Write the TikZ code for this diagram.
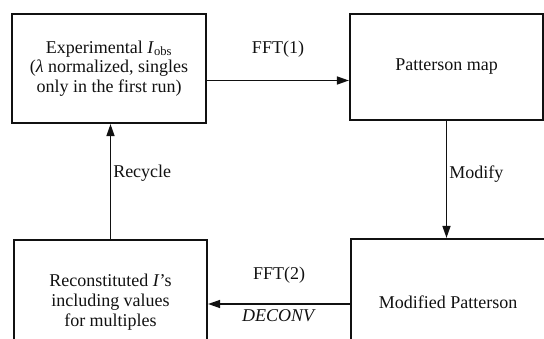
\documentclass[tikz,border=0pt]{standalone}
\usepackage{fontspec}
\setmainfont{Liberation Serif}
\usetikzlibrary{arrows.meta,calc,positioning}
\definecolor{ink}{HTML}{111111}
\tikzset{>={Triangle[length=12pt,width=8pt]},
  every node/.style={font=\fontsize{18}{19.7}\selectfont,text=ink},
  stagebox/.style={draw=ink,line width=2.2pt,align=center,inner sep=0pt},
  flow/.style={->,draw=ink,line width=1.5pt},
  lbl/.style={inner sep=2pt}}
\begin{document}
\begin{tikzpicture}[x=1pt,y=-1pt]
\useasboundingbox (0,0) rectangle (544,339);\clip (0,0) rectangle (544,339);
\node[stagebox,minimum width=194pt,minimum height=109pt] (exp) at (109,68.5)
  {Experimental \textit{I}\textsubscript{obs}\\(\textit{λ} normalized, singles\\only in the first run)};
\node[stagebox,minimum width=193pt,minimum height=106pt] (patt) at (446.5,67) {Patterson map};
\node[stagebox,minimum width=193pt,minimum height=124pt] (rec) at (110.5,302)
  {Reconstituted \textit{I}’s\\including values\\for multiples};
\node[stagebox,minimum width=194pt,minimum height=126pt] (mod) at (448,302) {Modified Patterson};
% cycle of transforms
\coordinate (f1) at ([yshift=-12pt]exp.east);
\draw[flow] (f1) -- node[lbl,above=20pt] {FFT(1)} (f1 -| patt.west);
\draw[flow] (patt.south) -- node[lbl,right,pos=.45] {Modify} (patt.south |- mod.north);
\coordinate (f2) at ([yshift=-2pt]mod.west);
\draw[flow] (f2) -- node[lbl,above=18pt] {FFT(2)} node[lbl,below=3pt] {\textit{DECONV}} (f2 -| rec.east);
\draw[flow] (rec.north) -- node[lbl,right,pos=.57] {Recycle} (rec.north |- exp.south);
\end{tikzpicture}
\end{document}
